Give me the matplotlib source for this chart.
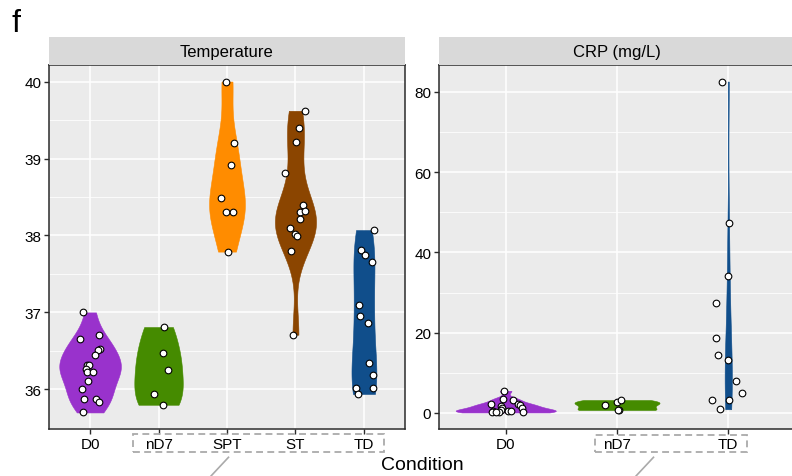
import numpy as np
import matplotlib
matplotlib.use('Agg')
import matplotlib.pyplot as plt
from matplotlib.patches import Rectangle
from matplotlib.lines import Line2D

plt.rcParams['font.family'] = ['Liberation Sans', 'DejaVu Sans']

# ---------------- data ----------------
colors = {'D0': '#9932CC', 'nD7': '#458B00', 'SPT': '#FF8C00',
          'ST': '#8B4500', 'TD': '#104E8B'}

temp_cats = ['D0', 'nD7', 'SPT', 'ST', 'TD']
temp_D0 = [37.0, 36.65, 36.71, 36.52, 36.51, 36.45, 36.32, 36.32, 36.26, 36.22,
           36.22, 36.11, 36.01, 35.88, 35.88, 35.83, 35.70]
temp_nD7 = [36.81, 36.47, 36.25, 35.94, 35.80]
temp_SPT = [40.0, 39.20, 38.91, 38.49, 38.31, 38.31, 37.79]
temp_ST = [39.62, 39.39, 39.21, 38.81, 38.39, 38.30, 38.32, 38.22, 38.10, 38.02,
           37.99, 37.80, 36.71]
temp_TD = [38.07, 37.81, 37.75, 37.65, 37.10, 36.95, 36.86, 36.34, 36.19, 36.02,
           36.02, 35.94]

# horizontal jitter (category units)
jit_temp_D0 = [-0.11, -0.145, 0.135, 0.145, 0.115, 0.065, -0.047, -0.009, -0.058,
               -0.052, 0.043, -0.033, -0.125, -0.096, 0.093, 0.135, -0.11]
jit_temp_nD7 = [0.083, 0.072, 0.14, -0.072, 0.068]
jit_temp_SPT = [-0.02, 0.106, 0.058, -0.083, -0.02, 0.091, 0.014]
jit_temp_ST = [0.135, 0.052, 0.014, -0.15, 0.106, 0.072, 0.14, 0.072, -0.078,
               -0.014, 0.019, -0.058, -0.039]
jit_temp_TD = [0.15, -0.043, 0.014, 0.12, -0.072, -0.062, 0.054, 0.068, 0.126,
               -0.12, 0.13, -0.081]

crp_cats = ['D0', 'nD7', 'TD']
crp_D0 = [5.5, 3.5, 3.2, 2.1, 2.3, 1.9, 1.7, 1.3, 1.1, 0.5, 0.7, 0.4, 0.4, 0.3,
          0.2, 0.1, 0.1]
crp_nD7 = [2.0, 2.6, 3.2, 0.7, 0.7]
crp_TD = [82.6, 47.3, 34.1, 27.3, 18.6, 14.5, 13.3, 8.0, 4.9, 3.3, 3.2, 0.9]

jit_crp_D0 = [-0.014, -0.023, 0.062, -0.134, 0.107, 0.125, -0.045, -0.032, 0.149,
              -0.119, -0.047, 0.024, 0.045, 0.155, -0.128, -0.059, -0.09]
jit_crp_nD7 = [-0.104, -0.003, 0.033, 0.015, 0.012]
jit_crp_TD = [-0.06, 0.006, -0.003, -0.107, -0.107, -0.092, -0.003, 0.069, 0.122,
              -0.146, 0.003, -0.071]

temp_major = [36, 37, 38, 39, 40]
temp_minor = [35.5, 36.5, 37.5, 38.5, 39.5]
crp_major = [0, 20, 40, 60, 80]
crp_minor = [10, 30, 50, 70]

# ---------------- helpers ----------------
W, H = 792, 477
fig = plt.figure(figsize=(W / 100, H / 100), dpi=100)


def fx(px):
    return px / W


def fy(py):
    return 1 - py / H


def bw_nrd0(x):
    x = np.asarray(x, float)
    n = len(x)
    hi = np.std(x, ddof=1)
    q75, q25 = np.percentile(x, [75, 25])
    lo = min(hi, (q75 - q25) / 1.34)
    if lo == 0:
        lo = hi if hi > 0 else (abs(x[0]) if x[0] != 0 else 1)
    return 0.9 * lo * n ** -0.2


def kde(x, grid):
    x = np.asarray(x, float)
    bw = bw_nrd0(x)
    z = (grid[:, None] - x[None, :]) / bw
    return np.exp(-0.5 * z ** 2).sum(1) / (len(x) * bw * np.sqrt(2 * np.pi))


EDGE = '#2B2B2B'


def panel(ax, cats, values, jitters, major, minor, title, strip_rect):
    grids, dens = [], []
    for v in values:
        g = np.linspace(min(v), max(v), 512)
        grids.append(g)
        dens.append(kde(v, g))
    mx = max(d.max() for d in dens)
    for i, (c, v, j, g, d) in enumerate(zip(cats, values, jitters, grids, dens)):
        w = d / mx * 0.45
        ax.fill_betweenx(g, i + 1 - w, i + 1 + w, color=colors[c], lw=0.4,
                         zorder=2)
        ax.scatter(i + 1 + np.array(j), v, s=23, facecolor='white',
                   edgecolor='black', linewidth=0.8, zorder=3)
    allv = np.concatenate([np.asarray(v, float) for v in values])
    lo, hi = allv.min(), allv.max()
    pad = (hi - lo) * 0.05
    ax.set_ylim(lo - pad, hi + pad)
    ax.set_xlim(0.4, len(cats) + 0.6)
    ax.set_xticks(range(1, len(cats) + 1))
    ax.set_xticklabels(cats)
    ax.set_yticks(major)
    ax.set_yticks(minor, minor=True)
    ax.set_facecolor('#EBEBEB')
    ax.set_axisbelow(True)
    ax.grid(True, which='major', color='white', lw=1.1)
    ax.grid(True, which='minor', axis='y', color='white', lw=0.55)
    ax.tick_params(which='major', length=3.5, width=1, color=EDGE,
                   labelsize=11, labelcolor='black', pad=2)
    ax.tick_params(which='minor', length=0)
    for s in ax.spines.values():
        s.set_color(EDGE)
        s.set_linewidth(1.1)
    sax = fig.add_axes(strip_rect)
    sax.set_facecolor('#D9D9D9')
    sax.set_xticks([])
    sax.set_yticks([])
    for s in sax.spines.values():
        s.set_visible(False)
    sax.text(0.5, 0.47, title, ha='center', va='center', fontsize=12,
             transform=sax.transAxes)


# panel geometry (pixels)
top, bot = 66, 430
axL = fig.add_axes([fx(49), fy(bot), (405 - 49) / W, (bot - top) / H])
axR = fig.add_axes([fx(439), fy(bot), (795 - 439) / W, (bot - top) / H])

panel(axL, temp_cats, [temp_D0, temp_nD7, temp_SPT, temp_ST, temp_TD],
      [jit_temp_D0, jit_temp_nD7, jit_temp_SPT, jit_temp_ST, jit_temp_TD],
      temp_major, temp_minor, 'Temperature',
      [fx(49), fy(66), (405 - 49) / W, (66 - 38) / H])
panel(axR, crp_cats, [crp_D0, crp_nD7, crp_TD],
      [jit_crp_D0, jit_crp_nD7, jit_crp_TD],
      crp_major, crp_minor, 'CRP (mg/L)',
      [fx(439), fy(66), (795 - 439) / W, (66 - 38) / H])

# axis title and panel letter
fig.text(fx(422), fy(466), 'Condition', ha='center', va='center', fontsize=14)
fig.text(fx(11), fy(31.5), 'f', ha='left', va='baseline', fontsize=23)

# dashed annotation boxes and leader lines
box_kw = dict(transform=fig.transFigure, fill=False, ec='#AAAAAA', lw=1.3,
              ls=(0, (3.8, 2.4)))
fig.add_artist(Rectangle((fx(133), fy(453.3)), (384 - 133) / W, (453.3 - 435) / H,
                         **box_kw))
fig.add_artist(Rectangle((fx(595), fy(453.3)), (746.5 - 595) / W,
                         (453.3 - 435.5) / H, **box_kw))
fig.add_artist(Line2D([fx(228.5), fx(211)], [fy(458.3), fy(477)],
                      transform=fig.transFigure, color='#AAAAAA', lw=1.2))
fig.add_artist(Line2D([fx(653.5), fx(636)], [fy(458.3), fy(477)],
                      transform=fig.transFigure, color='#AAAAAA', lw=1.2))

fig.savefig('out.png', dpi=100)
